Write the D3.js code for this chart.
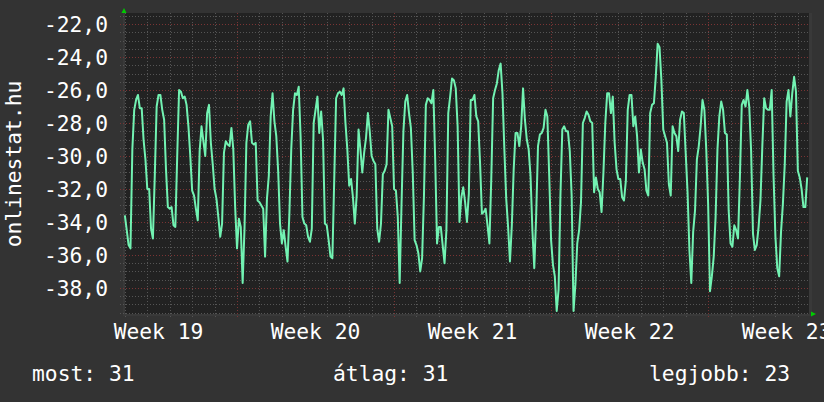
<!DOCTYPE html>
<html>
<head>
<meta charset="utf-8">
<script src="https://cdn.jsdelivr.net/npm/d3@7"></script>
<style>
    body { margin: 0; background-color: #333333; }
    svg { display: block; }
</style>
</head>
<body>
<div id="rrd_chart"></div>
<script>

//readings every 2 hours, starting at hour 0
const stepHours = 2;
const values = [
    -33.6, -34.5, -35.4, -35.6, -29.6, -27.2, -26.6, -26.3, -27.1, -27.1,
    -29.0, -30.2, -32.0, -32.0, -34.4, -35.0, -31.2, -27.0, -26.3, -26.3,
    -27.2, -27.8, -30.8, -33.1, -33.2, -33.1, -34.2, -34.3, -30.0, -26.0,
    -26.1, -26.5, -26.4, -26.9, -28.2, -30.0, -32.1, -32.4, -33.2, -33.9,
    -29.7, -28.2, -29.1, -30.0, -27.4, -26.9, -29.2, -30.5, -32.0, -32.6,
    -33.7, -34.9, -34.1, -29.8, -29.1, -29.3, -29.4, -28.3, -29.6, -33.1,
    -35.6, -33.8, -34.3, -37.7, -34.4, -29.2, -28.1, -27.9, -29.2, -29.3,
    -29.2, -32.7, -32.8,
    -33.0, -33.2, -36.1, -32.6, -31.2, -27.6, -26.2, -27.9, -28.8, -30.9,
    -34.1, -35.3, -34.5, -35.5, -36.4, -33.5, -29.6, -27.2, -26.2, -26.3,
    -25.8, -28.8, -33.7, -34.1, -34.2, -34.9, -35.2, -34.4, -28.0, -27.2,
    -26.4, -28.6, -27.3, -29.0, -34.1, -34.2, -35.1, -36.1, -36.2, -31.4,
    -26.5, -26.2, -26.1, -26.3, -25.9, -28.0, -29.6, -31.8, -31.4, -32.5,
    -34.1, -32.4, -28.4, -29.6, -31.0, -29.8, -28.9, -27.4, -28.5, -30.0,
    -30.3, -30.5, -34.4, -35.2, -34.1, -31.1, -30.9, -30.5, -27.2, -27.7,
    -28.2, -32.0, -32.1,
    -33.7, -37.7, -32.9, -28.5, -26.7, -26.3, -27.4, -28.3, -31.0, -35.1,
    -35.4, -35.9, -37.0, -36.2, -32.4, -26.9, -26.5, -26.6, -26.8, -26.0,
    -30.2, -35.3, -34.3, -34.3, -35.4, -36.5, -34.5, -27.4, -26.4, -25.3,
    -25.4, -25.9, -28.2, -34.0, -32.5, -31.9, -32.8, -34.0, -32.3, -26.6,
    -26.6, -26.3, -27.6, -27.9, -30.4, -33.5, -33.4, -33.2, -34.2, -35.3,
    -31.4, -26.5, -26.0, -25.6, -24.8, -24.4, -26.2, -29.6, -32.6, -34.3,
    -36.4, -34.2, -30.8, -28.6, -28.6, -29.4, -28.2, -25.9, -27.8, -29.0,
    -29.6, -31.2, -34.5, -36.8,
    -33.7, -29.4, -28.7, -28.6, -28.3, -27.2, -27.6, -31.2, -35.1, -36.6,
    -37.3, -39.4, -38.1, -32.4, -28.4, -28.2, -28.5, -28.5, -29.7, -32.4,
    -39.4, -37.8, -35.3, -34.5, -32.8, -28.0, -27.7, -27.3, -27.5, -27.9,
    -28.0, -32.2, -31.3, -32.0, -32.2, -33.4, -31.0, -28.0, -26.2, -26.2,
    -27.4, -26.4, -29.2, -30.8, -31.4, -31.4, -32.5, -32.7, -31.5, -27.2,
    -26.3, -26.3, -28.2, -27.6, -28.8, -31.0, -29.6, -30.4, -30.8, -32.1,
    -32.4, -27.4, -26.9, -26.8, -25.2, -23.2, -23.4, -25.4, -28.4, -28.8,
    -29.2, -31.7, -32.4, -28.2,
    -28.6, -28.8, -29.7, -27.8, -27.3, -27.4, -29.8, -32.2, -35.7, -37.7,
    -34.6, -33.3, -30.2, -29.4, -28.2, -26.6, -27.2, -29.6, -32.9, -38.2,
    -37.3, -36.1, -33.7, -29.6, -27.6, -26.7, -27.2, -28.6, -28.7, -33.3,
    -35.3, -35.5, -34.2, -34.5, -35.0, -31.3, -26.9, -26.6, -27.0, -26.0,
    -27.0, -29.7, -34.7, -35.7, -35.4, -34.3, -32.7, -29.4, -26.5, -27.1,
    -27.2, -27.2, -26.0, -31.2, -34.9, -36.8, -37.3, -34.6, -32.9, -30.5,
    -26.7, -26.0, -27.6, -26.2, -25.2, -26.1, -30.9, -31.3, -32.0, -33.1,
    -33.1, -31.3
];

//y ticks and x labels
const yTicks = [-22, -24, -26, -28, -30, -32, -34, -36, -38];
const weekLabels = ["Week 19", "Week 20", "Week 21", "Week 22", "Week 23"];
const weekStarts = [-48, 120, 288, 456, 624];   //hours
const legendItems = ["most: 31", "átlag: 31", "legjobb: 23"];
const axisTitle = "onlinestat.hu";

createChart();

function createChart() {

    const width = 824;
    const height = 402;
    const plot = { left: 123, right: 810, top: 13, bottom: 314 };
    const font = "'DejaVu Sans Mono', monospace";
    const fontSize = "21.3px";

    const svg = d3.select("#rrd_chart")
        .append("svg")
        .attr("width", width)
        .attr("height", height);

    svg.append("rect")
        .attr("width", width)
        .attr("height", height)
        .attr("fill", "#333333");

    //time scale in hours
    const xScale = d3.scaleLinear()
        .domain([-2, 733])
        .range([plot.left, plot.right]);

    const yScale = d3.scaleLinear()
        .domain([-39.58, -21.33])
        .range([plot.bottom, plot.top]);

    //plot background
    svg.append("rect")
        .attr("x", plot.left)
        .attr("y", plot.top)
        .attr("width", plot.right - plot.left)
        .attr("height", plot.bottom - plot.top)
        .attr("fill", "#222222");

    //lighter frame strips
    svg.append("rect")
        .attr("x", plot.left)
        .attr("y", plot.top)
        .attr("width", 2)
        .attr("height", plot.bottom - plot.top)
        .attr("fill", "#393939");

    svg.append("rect")
        .attr("x", plot.right - 1)
        .attr("y", plot.top)
        .attr("width", 3)
        .attr("height", plot.bottom - plot.top + 2)
        .attr("fill", "#393939");

    svg.append("rect")
        .attr("x", plot.left)
        .attr("y", plot.bottom)
        .attr("width", plot.right - plot.left)
        .attr("height", 2)
        .attr("fill", "#393939");

    //minor grid, every half unit and every day
    const minorY = d3.range(-39.5, -21.4, 0.5).filter(function(v) { return v % 2 !== 0; });
    const dayHours = d3.range(0, 733, 24).filter(function(h) { return (h - 120) % 168 !== 0; });

    svg.append("g")
        .selectAll("line")
        .data(minorY)
        .enter()
        .append("line")
        .attr("x1", plot.left - 3)
        .attr("x2", plot.right)
        .attr("y1", function(d) { return Math.round(yScale(d)) + 0.5; })
        .attr("y2", function(d) { return Math.round(yScale(d)) + 0.5; })
        .attr("stroke", "#555555")
        .attr("stroke-dasharray", "1,2");

    svg.append("g")
        .selectAll("line")
        .data(dayHours)
        .enter()
        .append("line")
        .attr("x1", function(d) { return Math.round(xScale(d)) + 0.5; })
        .attr("x2", function(d) { return Math.round(xScale(d)) + 0.5; })
        .attr("y1", plot.top)
        .attr("y2", plot.bottom + 3)
        .attr("stroke", "#555555")
        .attr("stroke-dasharray", "1,2");

    //major grid in dark red
    svg.append("g")
        .selectAll("line")
        .data(yTicks)
        .enter()
        .append("line")
        .attr("x1", plot.left - 3)
        .attr("x2", plot.right)
        .attr("y1", function(d) { return Math.round(yScale(d)) + 0.5; })
        .attr("y2", function(d) { return Math.round(yScale(d)) + 0.5; })
        .attr("stroke", "#7a3434")
        .attr("stroke-dasharray", "1,2");

    svg.append("g")
        .selectAll("line")
        .data(weekStarts.slice(1))
        .enter()
        .append("line")
        .attr("x1", function(d) { return Math.round(xScale(d)) + 0.5; })
        .attr("x2", function(d) { return Math.round(xScale(d)) + 0.5; })
        .attr("y1", plot.top)
        .attr("y2", plot.bottom + 4)
        .attr("stroke", "#7a3434")
        .attr("stroke-dasharray", "1,2");

    //the data line, clipped to the plot
    svg.append("defs")
        .append("clipPath")
        .attr("id", "plotClip")
        .append("rect")
        .attr("x", plot.left)
        .attr("y", plot.top)
        .attr("width", plot.right - plot.left)
        .attr("height", plot.bottom - plot.top);

    const line = d3.line()
        .x(function(d, i) { return xScale(i * stepHours); })
        .y(function(d) { return yScale(d); });

    svg.append("path")
        .datum(values)
        .attr("clip-path", "url(#plotClip)")
        .attr("d", line)
        .attr("fill", "none")
        .attr("stroke", "#72f2b2")
        .attr("stroke-width", 2)
        .attr("stroke-linejoin", "round");

    //axis arrows
    svg.append("path")
        .attr("d", "M121.5,13 L124,8 L126.5,13 Z")
        .attr("fill", "#00cc00");

    svg.append("path")
        .attr("d", "M811,311.5 L816,314 L811,316.5 Z")
        .attr("fill", "#00cc00");

    //y tick labels
    svg.append("g")
        .selectAll("text")
        .data(yTicks)
        .enter()
        .append("text")
        .attr("x", 108)
        .attr("y", function(d) { return yScale(d) + 8; })
        .attr("text-anchor", "end")
        .attr("fill", "#ffffff")
        .style("font-family", font)
        .style("font-size", fontSize)
        .text(function(d) { return d3.format(".1f")(d).replace("−", "-").replace(".", ","); });

    //week labels, centred in each week
    svg.append("g")
        .selectAll("text")
        .data(weekLabels)
        .enter()
        .append("text")
        .attr("x", function(d, i) { return xScale(weekStarts[i] + 84); })
        .attr("y", 339)
        .attr("text-anchor", "middle")
        .attr("fill", "#ffffff")
        .style("font-family", font)
        .style("font-size", fontSize)
        .text(function(d) { return d; });

    //vertical title
    svg.append("text")
        .attr("transform", "translate(21,164) rotate(-90)")
        .attr("text-anchor", "middle")
        .attr("fill", "#ffffff")
        .style("font-family", font)
        .style("font-size", fontSize)
        .text(axisTitle);

    //legend row at the bottom
    const legendX = [32, 333, 649];
    svg.append("g")
        .selectAll("text")
        .data(legendItems)
        .enter()
        .append("text")
        .attr("x", function(d, i) { return legendX[i]; })
        .attr("y", 381)
        .attr("fill", "#ffffff")
        .style("font-family", font)
        .style("font-size", fontSize)
        .text(function(d) { return d; });
}
</script>
</body>
</html>
